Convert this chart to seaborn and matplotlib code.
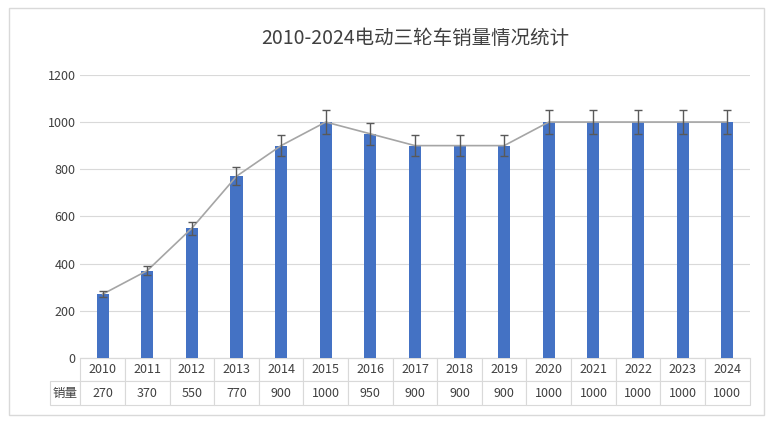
import numpy as np
import pandas as pd
import matplotlib
matplotlib.use('Agg')
import matplotlib.pyplot as plt
from matplotlib import font_manager
import seaborn as sns

# CJK-Schrift suchen (Name kann je nach Installation abweichen)
cjk = [f.name for f in font_manager.fontManager.ttflist if 'CJK' in f.name]
cjk_name = 'Noto Sans CJK SC' if 'Noto Sans CJK SC' in cjk else (cjk[0] if cjk else 'DejaVu Sans')
plt.rcParams['font.family'] = [cjk_name, 'DejaVu Sans']

years = ['2010', '2011', '2012', '2013', '2014', '2015', '2016', '2017',
         '2018', '2019', '2020', '2021', '2022', '2023', '2024']
sales = [270, 370, 550, 770, 900, 1000, 950, 900, 900, 900, 1000, 1000, 1000, 1000, 1000]
err = [v * 0.05 for v in sales]

df = pd.DataFrame({'year': years, 'sales': sales})

fig = plt.figure(figsize=(7.8, 4.23), dpi=100)
ax = fig.add_axes([0.103, 0.154, 0.858, 0.669])

sns.barplot(data=df, x='year', y='sales', color='#4472C4', width=0.27,
            saturation=1, ax=ax, zorder=3)
x = np.arange(len(years))
ax.plot(x, sales, color='#A5A5A5', lw=1.2, zorder=4)
ax.errorbar(x, sales, yerr=err, fmt='none', ecolor='#595959', elinewidth=1,
            capsize=3, zorder=5)

ax.set_ylim(0, 1200)
ax.set_yticks(range(0, 1201, 200))
ax.set_xlim(-0.5, len(years) - 0.5)
ax.grid(axis='y', color='#D9D9D9', lw=0.8, zorder=0)
ax.set_axisbelow(True)
for s in ['top', 'right', 'left']:
    ax.spines[s].set_visible(False)
ax.spines['bottom'].set_color('#D9D9D9')
ax.tick_params(axis='y', length=0, labelsize=9, colors='#404040')
ax.set_xticks([])
ax.set_xlabel('')
ax.set_ylabel('')

tbl = ax.table(cellText=[[str(v) for v in sales]], rowLabels=['销量'],
               colLabels=years, cellLoc='center', rowLoc='center',
               bbox=[0, -0.166, 1, 0.166])
tbl.auto_set_font_size(False)
tbl.set_fontsize(9)
for (r, c), cell in tbl.get_celld().items():
    cell.set_edgecolor('#D9D9D9')
    cell.set_linewidth(0.8)
    cell.get_text().set_color('#404040')
    if c == -1:
        cell.set_width(0.065)

ax.set_title('2010-2024电动三轮车销量情况统计', fontsize=14, color='#404040', pad=22)

border = plt.Rectangle((0.012, 0.02), 0.968, 0.96, transform=fig.transFigure,
                       fill=False, edgecolor='#D9D9D9', lw=1)
fig.patches.append(border)

fig.savefig('out.png', dpi=100)
